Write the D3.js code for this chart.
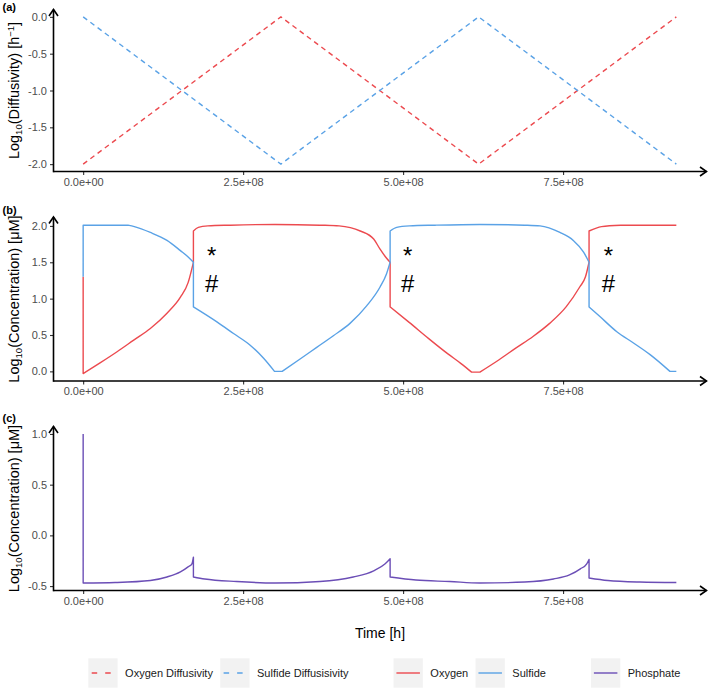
<!DOCTYPE html>
<html>
<head>
<meta charset="utf-8">
<script src="https://cdn.jsdelivr.net/npm/d3@7"></script>
<style>
  body { margin: 0; background: #fff; }
  text { font-family: "Liberation Sans", Arial, sans-serif; }
</style>
</head>
<body>
<svg id="chart" width="709" height="689"></svg>
<script>
// ---- data (time in hours, values are log10) ----
const xTicks = [0, 2.5e8, 5e8, 7.5e8];
const xTickLabels = ["0.0e+00", "2.5e+08", "5.0e+08", "7.5e+08"];

const diffTime = [0, 3.09e8, 6.18e8, 9.27e8];
const oxygenDiff = [-2, 0, -2, 0];
const sulfideDiff = [0, -2, 0, -2];

const oxygenConc = [
    [0, 1.3], [0, -0.03], [0.27e8, 0.12], [0.53e8, 0.27], [0.79e8, 0.43], [1.05e8, 0.59],
    [1.31e8, 0.80], [1.52e8, 1.02], [1.64e8, 1.22], [1.723e8, 1.5],
    [1.723e8, 1.93], [1.80e8, 1.98], [1.95e8, 2.0], [2.3e8, 2.01], [3.0e8, 2.02], [3.7e8, 2.01],
    [4.0e8, 2.0], [4.33e8, 1.93], [4.54e8, 1.82], [4.64e8, 1.68], [4.72e8, 1.58], [4.797e8, 1.5],
    [4.797e8, 0.886], [5.1e8, 0.67], [5.4e8, 0.45], [5.7e8, 0.24], [5.9e8, 0.11], [6.07e8, -0.01],
    [6.2e8, -0.01], [6.5e8, 0.16], [6.76e8, 0.32], [7.03e8, 0.48], [7.29e8, 0.66], [7.55e8, 0.89],
    [7.76e8, 1.16], [7.85e8, 1.3], [7.906e8, 1.5],
    [7.906e8, 1.93], [8.1e8, 1.99], [8.4e8, 2.01], [9.27e8, 2.01]
];
const sulfideConc = [
    [0, 1.3], [0, 2.01], [0.5e8, 2.01], [0.7e8, 2.01], [0.8e8, 1.99], [1.05e8, 1.91],
    [1.31e8, 1.80], [1.52e8, 1.66], [1.645e8, 1.57], [1.723e8, 1.5],
    [1.723e8, 0.886], [2.09e8, 0.68], [2.35e8, 0.52], [2.61e8, 0.36], [2.82e8, 0.18], [2.99e8, 0.0],
    [3.11e8, 0.0], [3.39e8, 0.17], [3.65e8, 0.33], [3.91e8, 0.49], [4.17e8, 0.66], [4.43e8, 0.90],
    [4.64e8, 1.16], [4.74e8, 1.34], [4.797e8, 1.5],
    [4.797e8, 1.93], [4.9e8, 1.98], [5.1e8, 2.0], [5.5e8, 2.01], [6.2e8, 2.02], [6.9e8, 2.01],
    [7.14e8, 2.0], [7.45e8, 1.91], [7.66e8, 1.80], [7.82e8, 1.64], [7.906e8, 1.5],
    [7.906e8, 0.886], [8.08e8, 0.75], [8.34e8, 0.545], [8.6e8, 0.39], [8.86e8, 0.23], [9.17e8, 0.0],
    [9.27e8, 0.0]
];
const phosphateConc = [
    [0, 1.0], [0, -0.47], [0.5e8, -0.465], [1.05e8, -0.445], [1.31e8, -0.41], [1.52e8, -0.36],
    [1.64e8, -0.31], [1.70e8, -0.28], [1.723e8, -0.215],
    [1.723e8, -0.41], [1.9e8, -0.43], [2.4e8, -0.455], [3.0e8, -0.47], [3.7e8, -0.455],
    [4.22e8, -0.41], [4.54e8, -0.35], [4.72e8, -0.28], [4.797e8, -0.23],
    [4.797e8, -0.41], [5.2e8, -0.44], [5.73e8, -0.455], [6.2e8, -0.47], [6.9e8, -0.46],
    [7.35e8, -0.43], [7.6e8, -0.39], [7.77e8, -0.33], [7.87e8, -0.28], [7.906e8, -0.237],
    [7.906e8, -0.42], [8.2e8, -0.445], [8.7e8, -0.46], [9.27e8, -0.465]
];

const markTimes = [2.01e8, 5.07e8, 8.21e8];
const markSymbols = ["*", "#"];
const markLevels = [1.66, 1.21];

const yTicksA = [0, -0.5, -1, -1.5, -2];
const yTicksB = [0, 0.5, 1, 1.5, 2];
const yTicksC = [-0.5, 0, 0.5, 1];

const legendGroups = [
    ["Oxygen Diffusivity", "Sulfide Diffusisivity"],
    ["Oxygen", "Sulfide"],
    ["Phosphate"]
];

// ---- colours ----
const red = "#ec4a4f", blue = "#5aa2e6", purple = "#6b4eb6";

const svg = d3.select("#chart");

const defs = svg.append("defs");
defs.append("marker")
    .attr("id", "arrow")
    .attr("markerUnits", "userSpaceOnUse")
    .attr("markerWidth", 12).attr("markerHeight", 12)
    .attr("viewBox", "0 0 12 12")
    .attr("refX", 8).attr("refY", 6)
    .attr("orient", "auto")
    .append("path")
    .attr("d", "M1.5,1.5 L8,6 L1.5,10.5")
    .attr("fill", "none")
    .attr("stroke", "black")
    .attr("stroke-width", 1.6);

const tMax = d3.max([...diffTime, ...oxygenConc.map(d => d[0]), ...phosphateConc.map(d => d[0])]);
const tPad = tMax * 0.05;
const x = d3.scaleLinear().domain([-tPad, tMax + tPad]).range([53.5, 706]);

const diffO = diffTime.map((t, i) => [t, oxygenDiff[i]]);
const diffS = diffTime.map((t, i) => [t, sulfideDiff[i]]);

const panels = [
    {label: "(a)", ly: 11, top: 9.5, bottom: 171.5, ticks: yTicksA, title: ["(Diffusivity) [h", "\u22121", "]"],
     series: [{data: diffO, color: red, dash: "5,4"}, {data: diffS, color: blue, dash: "5,4"}]},
    {label: "(b)", ly: 214, top: 217, bottom: 381, ticks: yTicksB, title: ["(Concentration) [\u03bcM]", "", ""],
     series: [{data: oxygenConc, color: red}, {data: sulfideConc, color: blue}], smooth: true, marks: true},
    {label: "(c)", ly: 422, top: 426.5, bottom: 590.5, ticks: yTicksC, title: ["(Concentration) [\u03bcM]", "", ""],
     series: [{data: phosphateConc, color: purple}], smooth: true}
];

// split a series at jumps and flat stretches (kept straight), smooth the rest, join into one path
function pathFor(data, xs, ys, smooth) {
    if (!smooth) return d3.line().x(d => xs(d[0])).y(d => ys(d[1]))(data);
    const pieces = [];
    let cur = [data[0]];
    for (let i = 1; i < data.length; i++) {
        const a = data[i - 1], b = data[i];
        if (a[0] === b[0] || a[1] === b[1]) {
            if (cur.length > 1) pieces.push({pts: cur, curve: d3.curveMonotoneX});
            pieces.push({pts: [a, b], curve: d3.curveLinear});
            cur = [b];
        } else {
            cur.push(b);
        }
    }
    if (cur.length > 1) pieces.push({pts: cur, curve: d3.curveMonotoneX});
    return pieces.map((pc, i) => {
        const s = d3.line().x(d => xs(d[0])).y(d => ys(d[1])).curve(pc.curve)(pc.pts);
        return i === 0 ? s : "L" + s.slice(1);
    }).join("");
}

panels.forEach(p => {
    const vals = p.series.flatMap(s => s.data.map(d => d[1]));
    const [lo, hi] = d3.extent(vals);
    const pad = (hi - lo) * 0.05;
    const y = d3.scaleLinear().domain([lo - pad, hi + pad]).range([p.bottom, p.top]);
    const g = svg.append("g");

    // ticks + labels
    const xAxis = g.append("g").attr("transform", `translate(0,${p.bottom})`)
        .call(d3.axisBottom(x).tickValues(xTicks).tickFormat((d, i) => xTickLabels[i]).tickSize(3.5).tickPadding(3));
    const yAxis = g.append("g").attr("transform", `translate(53.5,0)`)
        .call(d3.axisLeft(y).tickValues(p.ticks).tickFormat(d => d.toFixed(1)).tickSize(3.5).tickPadding(3));
    [xAxis, yAxis].forEach(a => {
        a.select(".domain").remove();
        a.selectAll(".tick line").attr("stroke", "#333").attr("stroke-width", 1.1);
        a.selectAll(".tick text").attr("fill", "#4d4d4d").style("font-size", "11px")
            .style("font-family", "'Liberation Sans', Arial, sans-serif");
    });

    // axis lines with arrows
    g.append("line").attr("x1", 53.5).attr("x2", 706.5).attr("y1", p.bottom).attr("y2", p.bottom)
        .attr("stroke", "black").attr("stroke-width", 1.6).attr("marker-end", "url(#arrow)");
    g.append("line").attr("x1", 53.5).attr("x2", 53.5).attr("y1", p.bottom + 0.8).attr("y2", p.top)
        .attr("stroke", "black").attr("stroke-width", 1.6).attr("marker-end", "url(#arrow)");

    p.series.forEach(s => {
        g.append("path")
            .attr("fill", "none")
            .attr("stroke", s.color)
            .attr("stroke-width", 1.4)
            .attr("stroke-linejoin", "round")
            .attr("stroke-dasharray", s.dash || null)
            .attr("d", pathFor(s.data, x, y, p.smooth));
    });

    if (p.marks) {
        markTimes.forEach(t => {
            markSymbols.forEach((sym, i) => {
                g.append("text")
                    .attr("x", x(t)).attr("y", y(markLevels[i]))
                    .attr("dy", sym === "*" ? 13.5 : 8.5)
                    .attr("text-anchor", "middle")
                    .style("font-size", "24px")
                    .text(sym);
            });
        });
    }

    // panel tag
    g.append("text").attr("x", 2.5).attr("y", p.ly)
        .style("font-size", "11px").style("font-weight", "bold").text(p.label);

    // y title
    const yt = g.append("text")
        .attr("transform", `translate(18.5,${(p.top + p.bottom) / 2}) rotate(-90)`)
        .attr("text-anchor", "middle")
        .style("font-size", "14.5px");
    yt.append("tspan").text("Log");
    yt.append("tspan").attr("baseline-shift", "-3").style("font-size", "9.5px").text("10");
    yt.append("tspan").text(p.title[0]);
    if (p.title[1]) {
        yt.append("tspan").attr("baseline-shift", "5").style("font-size", "9.5px").text(p.title[1]);
        yt.append("tspan").text(p.title[2]);
    }
});

// x title
svg.append("text").attr("x", 380).attr("y", 638).attr("text-anchor", "middle")
    .style("font-size", "14px").text("Time [h]");

// legend
const legendStyles = [
    [{color: red, dash: "5.5,8"}, {color: blue, dash: "5.5,8"}],
    [{color: red}, {color: blue}],
    [{color: purple}]
];
const lg = svg.append("g");
let lx = 88.3;
const keyW = 29.3, keyTop = 658.3, keyH = 29.4;
legendGroups.forEach((grp, gi) => {
    grp.forEach((lab, ii) => {
        const st = legendStyles[gi][ii];
        lg.append("rect").attr("x", lx).attr("y", keyTop).attr("width", keyW).attr("height", keyH)
            .attr("fill", "#f2f2f2");
        lg.append("line")
            .attr("x1", lx + (st.dash ? 3.4 : 2.9)).attr("x2", lx + keyW - 2.9)
            .attr("y1", keyTop + keyH / 2).attr("y2", keyTop + keyH / 2)
            .attr("stroke", st.color).attr("stroke-width", 1.4)
            .attr("stroke-dasharray", st.dash || null);
        const t = lg.append("text").attr("x", lx + keyW + 7.5).attr("y", keyTop + keyH / 2 + 4)
            .style("font-size", "11px").attr("fill", "#1a1a1a").text(lab);
        const w = t.node().getComputedTextLength();
        lx = lx + keyW + 7.5 + w + (ii < grp.length - 1 ? 7.3 : 45);
    });
});
</script>
</body>
</html>
